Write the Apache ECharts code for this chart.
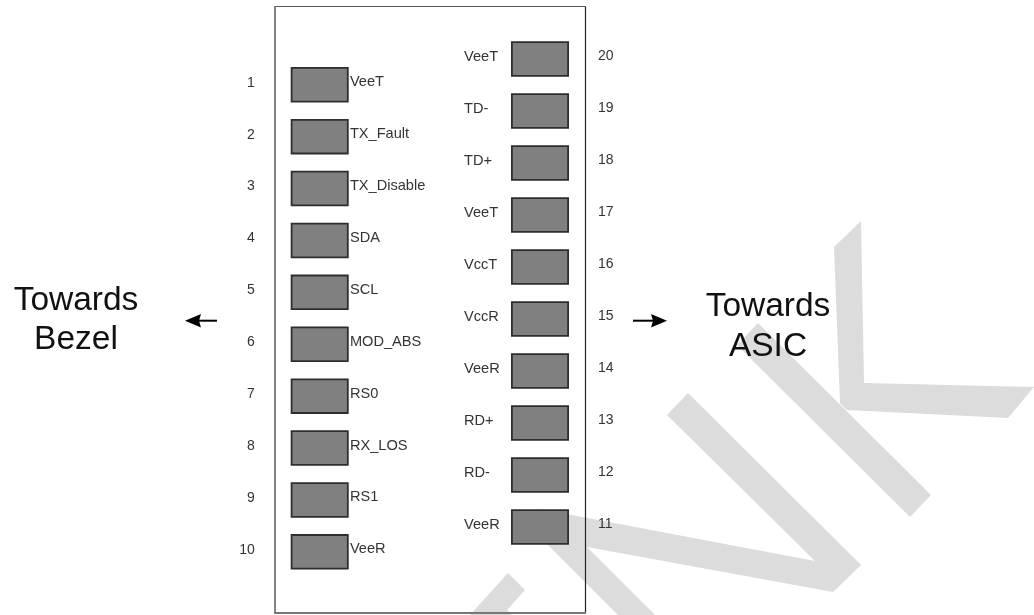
<!DOCTYPE html>
<html>
<head>
<meta charset="utf-8">
<style>html,body{margin:0;padding:0;background:#fff}#c{width:1034px;height:615px;filter:blur(0.4px)}</style>
<script src="https://cdn.jsdelivr.net/npm/echarts@6/dist/echarts.min.js"></script>
</head>
<body>
<div id="c"></div>
<script>
var leftPins = ['1','2','3','4','5','6','7','8','9','10'];
var leftNames = ['VeeT','TX_Fault','TX_Disable','SDA','SCL','MOD_ABS','RS0','RX_LOS','RS1','VeeR'];
var rightPins = ['20','19','18','17','16','15','14','13','12','11'];
var rightNames = ['VeeT','TD-','TD+','VeeT','VccT','VccR','VeeR','RD+','RD-','VeeR'];
var padPresent = [1,1,1,1,1,1,1,1,1,1];
var sideLabels = ['Towards\nBezel','Towards\nASIC'];

var FONT = '"Liberation Sans", Arial, sans-serif';
var WM = '#dcdcdc';
function wm(points){return {type:'polygon',z:-10,shape:{points:points},style:{fill:WM}};}
function line(x1,y1,x2,y2,c,w){return {type:'line',z:-5,shape:{x1:x1,y1:y1,x2:x2,y2:y2},style:{stroke:c,lineWidth:w}};}
function tip(points){return {type:'polygon',z:-5,shape:{points:points},style:{fill:'#000'}};}
function big(text,cx,top,lh){return {type:'text',z:5,x:cx,y:top,style:{text:text,fill:'#111',font:'33.5px '+FONT,lineHeight:lh,align:'center'}};}

function padSeries(names,idx,label){
  return {
    type:'bar', xAxisIndex:idx, yAxisIndex:idx, barWidth:35.5, z:3,
    data:padPresent.map(function(v,i){return {value:v,name:names[i]};}),
    itemStyle:{color:'#808080',borderColor:'#2e2e2e',borderWidth:1.8},
    label:Object.assign({show:true,formatter:'{b}',color:'#333',fontSize:14.6,fontFamily:FONT},label)
  };
}

var chart = echarts.init(document.getElementById('c'),null,{renderer:'canvas'});
chart.setOption({
  animation:false,
  backgroundColor:'#fff',
  grid:[
    {left:290.7,width:58,top:58.8,height:519},
    {left:511,width:58,top:33,height:520}
  ],
  xAxis:[
    {gridIndex:0,type:'value',min:0,max:1,show:false},
    {gridIndex:1,type:'value',min:0,max:1,show:false}
  ],
  yAxis:[
    {gridIndex:0,type:'category',inverse:true,data:leftPins,position:'left',
     axisLine:{show:false},axisTick:{show:false},
     axisLabel:{interval:0,margin:36,color:'#333',fontSize:14,fontFamily:FONT,verticalAlign:'bottom',lineHeight:4}},
    {gridIndex:1,type:'category',inverse:true,data:rightPins,position:'right',
     axisLine:{show:false},axisTick:{show:false},
     axisLabel:{interval:0,margin:29,color:'#333',fontSize:14,fontFamily:FONT,verticalAlign:'bottom',lineHeight:6}}
  ],
  series:[
    padSeries(leftNames,0,{position:'right',distance:1.2,offset:[0,-2.5]}),
    padSeries(rightNames,1,{position:[-47,'50%'],verticalAlign:'middle',align:'left',offset:[0,-2]})
  ],
  graphic:{elements:[
    wm([[861,221],[864,383],[1034,387],[1008,418],[847,410],[840,403],[834,247]]),
    wm([[758,323],[931,495],[910,517],[737,345]]),
    wm([[540,509],[815,561],[667,415],[688,393],[861,565],[833,592],[587,547],[655,615],[618,615],[530,527]]),
    wm([[508,573],[525,590],[507,610],[512,615],[470,615]]),
    line(275,6.5,585.5,6.5,'#555',1),
    line(585.5,6.5,585.5,613,'#222',1.2),
    line(275,6,275,614,'#777',1.8),
    line(275,613,586,613,'#777',1.8),
    line(217,320.7,195,320.7,'#000',2),
    tip([[185,320.7],[201,314],[199,320.7],[201,327.5]]),
    line(633,320.7,656,320.7,'#000',2),
    tip([[667,320.7],[651,314],[653,320.7],[651,327.5]]),
    big(sideLabels[0],76,281,39),
    big(sideLabels[1],768,287,40)
  ]}
});
</script>
</body>
</html>
